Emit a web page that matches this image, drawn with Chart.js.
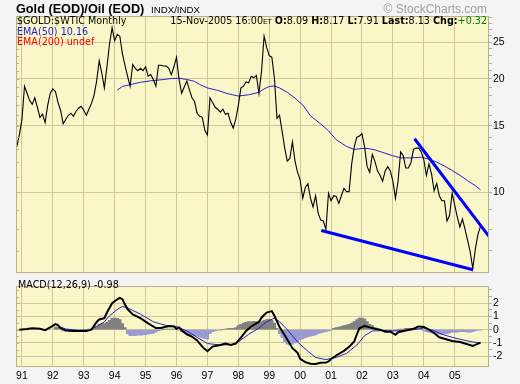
<!DOCTYPE html>
<html>
<head>
<meta charset="utf-8">
<script src="https://cdn.jsdelivr.net/npm/chart.js@4.4.0/dist/chart.umd.min.js"></script>
<style>
  html, body { margin: 0; padding: 0; background: #f4f4f4; }
  #wrap { position: relative; width: 520px; height: 384px; background: #f4f4f4; overflow: hidden;
          font-family: "Liberation Sans", Arial, sans-serif; }
  canvas { position: absolute; left: 0; }
  #top { top: 0; }
  #bot { top: 279px; }
  .t { position: absolute; white-space: nowrap; line-height: 1; }
  .s { font-family: "DejaVu Sans", Verdana, sans-serif; font-size: 9.6px; }
</style>
</head>
<body>
<div id="wrap">
  <canvas id="top" width="520" height="280"></canvas>
  <canvas id="bot" width="520" height="105"></canvas>

  <div class="t" style="left:16px; top:3px; font-size:12.7px; font-weight:bold;">Gold (EOD)/Oil (EOD)</div>
  <div class="t" style="left:151px; top:4.5px; font-size:9.7px;">INDX/INDX</div>
  <div class="t" style="right:33px; top:2.5px; font-size:12px; color:#a0a0a0;">© StockCharts.com</div>

  <div class="t s" style="left:17px; top:16.2px;">$GOLD:$WTIC Monthly</div>
  <div class="t s" style="right:33px; top:16.2px;">15-Nov-2005 16:00<span style="font-size:7px;">ET</span> <b>O:</b>8.09 <b>H:</b>8.17 <b>L:</b>7.91 <b>Last:</b>8.13 <b>Chg:</b><span style="color:#008000;">+0.32</span></div>
  <div class="t s" style="left:17px; top:26.9px; color:#2020e0;">EMA(50) 10.16</div>
  <div class="t s" style="left:17px; top:36.9px; color:#ff0000;">EMA(200) undef</div>
  <div class="t s" style="left:18px; top:280.4px;">MACD(12,26,9) -0.98</div>
</div>

<script>
// x positions are months since Jan 1991
const yearLabels = ['91','92','93','94','95','96','97','98','99','00','01','02','03','04','05'];
const yearMonths = yearLabels.map((_, i) => i * 12);

// monthly $GOLD:$WTIC closes, starting Nov 1990
const firstMonth = -2;
const ratio = [
  13.2, 14.2,
  15.6, 19.1, 18.3, 17.5, 17.1, 17.8, 16.8, 15.8, 16.1, 15.3, 17.0, 18.3,
  18.8, 18.5, 17.3, 16.5, 15.2, 15.6, 16.0, 16.2, 15.9, 16.4, 16.7, 16.9,
  16.5, 16.0, 16.6, 17.2, 18.1, 19.7, 22.3, 20.7, 18.9, 21.5, 24.7, 27.3,
  25.2, 26.2, 25.9, 23.3, 21.7, 20.3, 19.1, 21.8, 21.3, 21.0, 21.3, 21.0,
  21.5, 20.3, 20.5, 19.9, 19.1, 21.7, 21.7, 21.6, 21.6, 21.3, 20.5, 21.5,
  22.8, 19.9, 18.3, 19.0, 19.7, 18.7, 17.8, 17.4, 16.2, 15.9, 15.8, 14.6,
  14.2, 17.8, 17.3, 16.8, 16.6, 16.3, 16.6, 16.1, 16.2, 15.35, 14.8, 15.6,
  17.0, 18.9, 19.1, 19.6, 19.5, 20.3, 20.1, 20.4, 18.3, 20.9, 25.9, 24.2,
  23.0, 22.8, 20.1, 15.7, 16.0, 14.5, 13.1, 12.1, 12.3, 13.6, 12.1, 11.3,
  10.8, 9.65, 10.3, 10.55, 9.65, 9.15, 9.8, 8.8, 8.45, 8.4, 7.98, 9.95,
  9.5, 9.8, 9.75, 9.35, 9.8, 10.25, 10.05, 10.05, 11.9, 13.2, 14.0, 14.1,
  14.3, 13.2, 11.7, 11.3, 12.6, 12.1, 11.4, 11.1, 10.7, 11.4, 11.7, 11.4,
  10.7, 9.65, 10.7, 12.8, 12.5, 11.6, 11.6, 12.0, 13.0, 13.1, 13.1, 12.8,
  12.2, 11.1, 11.9, 11.2, 10.1, 10.55, 9.8, 9.5, 9.5, 8.4, 8.7, 9.95,
  9.25, 8.6, 8.1, 8.5, 7.98, 7.47, 6.96, 6.29, 7.08, 7.74, 8.13
];

const emaMonths = [37,39,42,46,50,54,58,61,64,67,69,72,76,80,84,88,92,94,96,98,
  100,103,106,109,112,116,119,122,126,129,132,134,137,140,144,147,151,155,158,161,
  164,167,170,173,176,178];
const emaValues = [18.65,19.07,19.28,19.56,19.74,19.86,20.02,20.05,19.9,19.67,
  19.3,18.9,18.62,18.24,17.99,18.13,18.4,18.79,19.07,19.13,
  18.9,18.4,17.76,17.03,15.95,15.17,14.55,13.79,13.23,12.99,
  13.07,13.07,12.96,12.76,12.5,12.34,12.34,12.39,12.24,12.03,
  11.74,11.43,11.1,10.74,10.42,10.16];

// hand-drawn trendlines
const lowerTrendMonths = [116.2, 175.1];
const lowerTrendValues = [7.93, 6.24];
const upperTrendMonths = [152.4, 181.3];
const upperTrendValues = [13.87, 7.65];

// MACD(12,26,9)
const macdMonths = [-1,2,4,7,9,11,13,14,15,17,20,23,25,27,29,30,32,33,35,37,
  38,39,40,41,43,46,49,52,54,57,59,60,61,62,64,66,68,70,71,72,
  74,77,79,81,83,85,87,89,91,92,93,94,95,97,98,100,101,103,105,107,
  108,110,112,114,116,118,119,120,122,125,127,129,130,131,133,135,137,139,141,143,
  145,146,149,152,154,156,158,160,162,165,167,170,172,175,176,178];
const macdValues = [0,0.05,0.1,0.07,-0.04,0.17,0.42,0.35,0.12,-0.07,-0.11,-0.11,-0.11,0,0.58,0.77,0.87,1.29,1.99,2.29,
  2.4,2.3,1.9,1.55,1.15,0.87,0.47,0.12,0.12,0.28,0.24,0.07,0.17,-0.05,-0.35,-0.53,-0.81,-1.28,-1.47,-1.63,
  -1.28,-1.16,-1.05,-1.16,-1.05,-0.6,-0.1,0.24,0.47,0.59,0.9,1.1,1.29,1.4,1.05,0.2,-0.1,-0.75,-1.4,-1.75,
  -2.2,-2.45,-2.58,-2.6,-2.5,-2.49,-2.4,-2.21,-1.95,-1.6,-1.3,-0.9,-0.35,0.1,0.28,0.17,0.07,0,-0.16,-0.16,
  -0.39,-0.2,-0.07,0.07,0.24,0.2,0,-0.25,-0.58,-0.74,-0.86,-0.93,-1.05,-1.23,-1.15,-0.98];

const signalMonths = [14,15,17,22,26,29,32,34,37,39,41,46,51,56,60,64,68,72,77,82,
  84,88,92,95,98,100,103,107,111,114,118,122,126,130,133,136,140,144,148,152,
  156,160,163,167,171,175,178];
const signalValues = [0.2,0.2,0.05,-0.05,-0.05,0.24,0.59,1.05,1.52,1.75,1.64,1.17,0.59,0.31,0.24,-0.1,-0.58,-1.05,-1.16,-1.12,
  -0.93,-0.35,0.12,0.59,0.87,0.59,0,-0.93,-1.63,-2.1,-2.26,-2.1,-1.79,-1.16,-0.46,-0.1,-0.07,-0.1,-0.07,0,
  0.12,-0.07,-0.35,-0.58,-0.77,-0.93,-1.0];

const histFirstMonth = 13;
const histValues = [
  0.2, 0.2, 0.15, -0.1, -0.1, -0.05, -0.03, -0.03, -0.02, -0.02, 0, 0, 0, 0.02, 0.05,
  0.1, 0.25, 0.4, 0.45, 0.45, 0.55, 0.7, 0.85, 0.87, 0.85, 0.75, 0.45, 0.15,
  -0.3, -0.46, -0.46, -0.46, -0.42, -0.42, -0.4, -0.38, -0.35, -0.3, -0.28, -0.2, -0.1, -0.05, 0,
  0.03, 0.05, 0.05, 0.03, 0, -0.05,
  -0.15, -0.25, -0.3, -0.35, -0.4, -0.45, -0.5, -0.55, -0.62, -0.68, -0.7,
  -0.3, -0.15, -0.1, -0.05, -0.02, 0,
  0.05, 0.08, 0.1, 0.1, 0.15, 0.3, 0.4, 0.5, 0.55, 0.6, 0.6, 0.63, 0.6, 0.55, 0.6, 0.7, 0.75, 0.77, 0.7, 0.5, 0.1,
  -0.3, -0.6, -0.9, -1.1, -1.16, -1.1, -1.0, -0.9, -0.75, -0.7, -0.6, -0.55, -0.5, -0.45, -0.4, -0.3, -0.25, -0.2, -0.15, -0.1, -0.05,
  0.1, 0.15, 0.2, 0.25, 0.3, 0.35, 0.4, 0.5, 0.6, 0.75, 0.87, 0.87, 0.8, 0.6, 0.4, 0.3, 0.15, 0.05,
  -0.05, -0.1, -0.1, -0.1, -0.15, -0.1, -0.05, 0, 0.05, 0.05, 0.1, 0.1, 0.1, 0.1, 0.1, 0.05, 0,
  -0.1, -0.15, -0.2, -0.25, -0.3, -0.3, -0.35, -0.35, -0.3, -0.3, -0.25, -0.2, -0.2, -0.2, -0.15, -0.15, -0.15, -0.2, -0.2, -0.15, -0.1, -0.05, -0.05
];

const priceTicks = [7,8,9,10,11,12,13,14,15,16,17,18,19,20,21,22,23,24,25,26,27,28,29];
const priceLabels = [10, 15, 20, 25];
const macdTicks = [-2,-1.5,-1,-0.5,0,0.5,1,1.5,2,2.5,3];
const macdLabels = [-2, -1, 0, 1, 2];

const pts = (xs, ys) => xs.map((x, i) => ({ x: x, y: ys[i] }));

const plotBg = '#f9f7c8';
const gridCol = '#cfc79c';
const frameCol = '#b8b08a';
const font = { family: '"Liberation Sans", Arial, sans-serif', size: 10.5 };

Chart.defaults.animation = false;
Chart.defaults.color = '#000';

// yellow plot area, frame, and small inner ticks on the left edge
const panel = {
  id: 'panel',
  beforeDraw(chart) {
    const { ctx, chartArea: a } = chart;
    ctx.save();
    ctx.fillStyle = plotBg;
    ctx.fillRect(a.left, a.top, a.right - a.left, a.bottom - a.top);
    ctx.restore();
  },
  afterDraw(chart, args, opts) {
    const { ctx, chartArea: a } = chart;
    const y = chart.scales.y;
    ctx.save();
    ctx.strokeStyle = frameCol;
    ctx.lineWidth = 1;
    ctx.beginPath();
    (opts.leftTicks || []).forEach(v => {
      const py = Math.round(y.getPixelForValue(v)) + 0.5;
      ctx.moveTo(a.left, py);
      ctx.lineTo(a.left + 3, py);
    });
    ctx.stroke();
    ctx.strokeRect(Math.round(a.left) + 0.5, Math.round(a.top) + 0.5,
      Math.round(a.right - a.left) - 1, Math.round(a.bottom - a.top) - 1);
    ctx.restore();
  }
};

function xAxis(showLabels) {
  return {
    type: 'linear', min: -2.3, max: 181.3, offset: false,
    afterBuildTicks: ax => { ax.ticks = yearMonths.map(v => ({ value: v })); },
    afterFit: ax => { ax.height = showLabels ? 17 : 0; },
    grid: { color: gridCol, drawTicks: false, offset: false },
    border: { display: false },
    ticks: {
      display: showLabels, font: font, padding: 3, maxRotation: 0, autoSkip: false,
      callback: (v) => yearLabels[yearMonths.indexOf(v)]
    }
  };
}

new Chart(document.getElementById('top'), {
  type: 'line',
  data: {
    datasets: [
      { data: pts(upperTrendMonths, upperTrendValues), borderColor: '#0000ff', borderWidth: 3, pointRadius: 0 },
      { data: pts(lowerTrendMonths, lowerTrendValues), borderColor: '#0000ff', borderWidth: 3, pointRadius: 0 },
      { data: ratio.map((v, i) => ({ x: firstMonth + i, y: v })), borderColor: '#000000', borderWidth: 1.1, pointRadius: 0 },
      { data: pts(emaMonths, emaValues), borderColor: '#2a1fd0', borderWidth: 1, pointRadius: 0 }
    ]
  },
  options: {
    responsive: false,
    layout: { padding: { left: 16, top: 16, right: 0, bottom: 0 } },
    plugins: { legend: { display: false }, tooltip: { enabled: false }, panel: { leftTicks: priceTicks } },
    scales: {
      x: xAxis(false),
      y: {
        type: 'logarithmic', position: 'right', min: 6.13, max: 29.3,
        afterBuildTicks: ax => { ax.ticks = priceTicks.map(v => ({ value: v })); },
        afterFit: ax => { ax.width = 31; },
        grid: {
          color: c => priceLabels.includes(c.tick.value) ? gridCol : 'rgba(0,0,0,0)',
          tickColor: frameCol, tickLength: 3
        },
        border: { display: false },
        ticks: { font: font, padding: 1, autoSkip: false,
          callback: v => priceLabels.includes(v) ? String(v) : '' }
      }
    }
  },
  plugins: [panel]
});

new Chart(document.getElementById('bot'), {
  type: 'line',
  data: {
    datasets: [
      { data: pts(macdMonths, macdValues), borderColor: '#000000', borderWidth: 2, pointRadius: 0, order: 1 },
      { data: pts(signalMonths, signalValues), borderColor: '#2a1fd0', borderWidth: 1, pointRadius: 0, order: 2 },
      { type: 'bar', data: histValues.map((v, i) => ({ x: histFirstMonth + i, y: v })),
        backgroundColor: histValues.map(v => v >= 0 ? '#808080' : '#9a9ad2'),
        barPercentage: 1, categoryPercentage: 1, borderWidth: 0, order: 3 }
    ]
  },
  options: {
    responsive: false,
    layout: { padding: { left: 16, top: 1, right: 0, bottom: 0 } },
    plugins: { legend: { display: false }, tooltip: { enabled: false }, panel: { leftTicks: macdTicks } },
    scales: {
      x: xAxis(true),
      y: {
        type: 'linear', position: 'right', min: -2.82, max: 3.27,
        afterBuildTicks: ax => { ax.ticks = macdTicks.map(v => ({ value: v })); },
        afterFit: ax => { ax.width = 31; },
        grid: {
          color: c => macdLabels.includes(c.tick.value) ? gridCol : 'rgba(0,0,0,0)',
          tickColor: frameCol, tickLength: 3
        },
        border: { display: false },
        ticks: { font: font, padding: 1, autoSkip: false,
          callback: v => macdLabels.includes(v) ? String(v) : '' }
      }
    }
  },
  plugins: [panel]
});
</script>
</body>
</html>
